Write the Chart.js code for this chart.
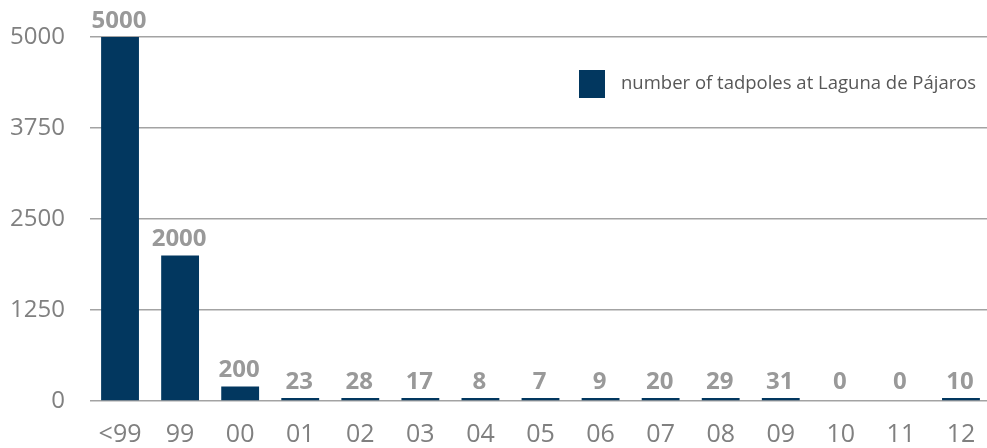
<!DOCTYPE html>
<html>
<head>
<meta charset="utf-8">
<script src="https://cdn.jsdelivr.net/npm/chart.js@4.4.0/dist/chart.umd.min.js"></script>
<style>
  html, body { margin: 0; padding: 0; background: #fff; overflow: hidden; }
  #wrap { width: 987px; height: 448px; overflow: hidden; }
</style>
</head>
<body>
<div id="wrap"><canvas id="chart" width="991" height="448"></canvas></div>
<script>
// chart data
const years = ['<99', '99', '00', '01', '02', '03', '04', '05', '06', '07', '08', '09', '10', '11', '12'];
const tadpoles = [5000, 2000, 200, 23, 28, 17, 8, 7, 9, 20, 29, 31, 0, 0, 10];
const yTicks = [0, 1250, 2500, 3750, 5000];
const seriesName = 'number of tadpoles at Laguna de Pájaros';

const barColor = '#02375f';
const fontFamily = '"Open Sans", "Noto Sans", sans-serif';

// value labels above bars
const valueLabels = {
    id: 'valueLabels',
    afterDatasetsDraw(chart) {
        const ctx = chart.ctx;
        const meta = chart.getDatasetMeta(0);
        ctx.save();
        ctx.font = 'bold 24px ' + fontFamily;
        ctx.fillStyle = '#999999';
        ctx.textAlign = 'center';
        ctx.textBaseline = 'alphabetic';
        meta.data.forEach((bar, i) => {
            ctx.fillText(String(tadpoles[i]), bar.x - 1, bar.y - 9);
        });
        ctx.restore();
    }
};

// legend box inside the plot, top right
const insideLegend = {
    id: 'insideLegend',
    afterDraw(chart) {
        const ctx = chart.ctx;
        const area = chart.chartArea;
        const x = area.left + 489;
        const y = area.top + 33;
        ctx.save();
        ctx.fillStyle = barColor;
        ctx.fillRect(x, y, 26, 28);
        ctx.font = '18.5px ' + fontFamily;
        ctx.fillStyle = '#575757';
        ctx.textBaseline = 'middle';
        ctx.textAlign = 'left';
        ctx.fillText(seriesName, x + 42, y + 14);
        ctx.restore();
    }
};

const chart = new Chart(document.getElementById('chart'), {
    type: 'bar',
    data: {
        labels: years,
        datasets: [{
            label: seriesName,
            data: tadpoles,
            backgroundColor: c => (c.raw === 0 ? 'rgba(0,0,0,0)' : barColor),
            borderWidth: 0,
            minBarLength: 3,
            barPercentage: 0.63,
            categoryPercentage: 1.0
        }]
    },
    options: {
        responsive: false,
        animation: false,
        layout: { padding: { top: 37, right: 0, left: 0, bottom: 0 } },
        plugins: {
            legend: { display: false },
            tooltip: { enabled: false }
        },
        scales: {
            x: {
                grid: { display: false, drawTicks: false },
                border: { display: false },
                ticks: {
                    color: '#808080',
                    font: { family: fontFamily, size: 25 },
                    padding: 19,
                    maxRotation: 0
                },
                afterFit(scale) {
                    scale.height = 47;
                    scale.paddingLeft = 0;
                    scale.paddingRight = 0;
                }
            },
            y: {
                min: 0,
                max: 5000,
                afterBuildTicks(scale) { scale.ticks = yTicks.map(v => ({ value: v })); },
                grid: { color: '#a3a3a3', lineWidth: 1.5, drawTicks: false },
                border: { display: false },
                ticks: {
                    color: '#808080',
                    font: { family: fontFamily, size: 24 },
                    padding: 25,
                    callback: v => String(v)
                },
                afterFit(scale) {
                    scale.width = 90;
                    scale.paddingTop = 0;
                    scale.paddingBottom = 0;
                }
            }
        }
    },
    plugins: [valueLabels, insideLegend]
});
</script>
</body>
</html>
